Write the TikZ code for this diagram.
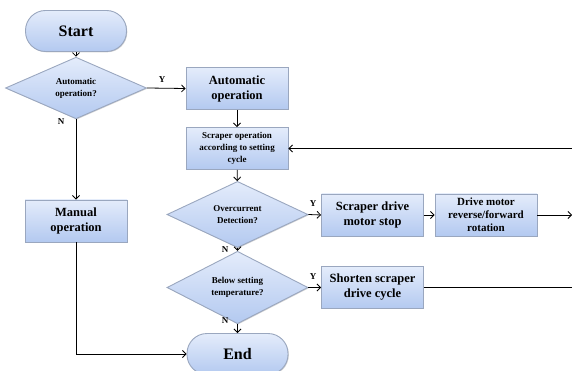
\documentclass[tikz,border=0pt]{standalone}
\usepackage{fontspec}
\setmainfont{Liberation Serif}
\usetikzlibrary{shapes.geometric,arrows.meta,shadows}
\definecolor{ctop}{HTML}{E4ECFB}
\definecolor{cbot}{HTML}{B3C9F0}
\definecolor{cedge}{HTML}{9AA7BF}
\begin{document}
\begin{tikzpicture}[x=1pt,y=-1pt,
  grad/.style={top color=ctop, bottom color=cbot, draw=cedge, line width=0.9pt,
    drop shadow={shadow xshift=0.8pt, shadow yshift=-0.8pt, opacity=0.35}},
  proc/.style={grad, rectangle, minimum width=102pt, minimum height=42pt, inner sep=1pt, align=center, font=\bfseries\fontsize{12.5}{15}\selectfont},
  term/.style={grad, rectangle, rounded corners=20pt, minimum width=101pt, minimum height=41pt, inner sep=1pt, font=\bfseries\fontsize{16}{18}\selectfont},
  dec/.style={grad, diamond, minimum width=141pt, minimum height=53pt, inner sep=0pt, align=center, font=\bfseries\fontsize{9}{12}\selectfont},
  arr/.style={-{Straight Barb[length=3.5pt,width=7pt]}, line width=0.8pt},
  ln/.style={line width=0.8pt},
  lab/.style={font=\bfseries\fontsize{9}{10}\selectfont, inner sep=0pt}]
\useasboundingbox (0,0) rectangle (572,371);
\node[term] (start) at (76,31) {Start};
\node[dec] (d1) at (76,88) {Automatic\\operation?};
\node[proc] (auto) at (237,88.5) {Automatic\\operation};
\node[proc, font=\bfseries\fontsize{9}{12}\selectfont] (scr) at (237,148.5) {Scraper operation\\according to setting\\cycle};
\node[dec] (d2) at (237.5,214.5) {Overcurrent\\Detection?};
\node[proc] (stop) at (372.5,215) {Scraper drive\\motor stop};
\node[proc, font=\bfseries\fontsize{11}{13}\selectfont] (drv) at (486,215) {Drive motor\\reverse/forward\\rotation};
\node[dec] (d3) at (237.5,287.5) {Below setting\\temperature?};
\node[proc] (short) at (372.5,287.5) {Shorten scraper\\drive cycle};
\node[term] (end) at (237.5,354) {End};
\node[proc] (man) at (76,221) {Manual\\operation};
\coordinate (r1) at (572,148.5);
\coordinate (r2) at (572,215);
\coordinate (r3) at (572,287.5);
\draw[arr] (start) -- (d1);
\draw[arr] (d1.east) -- (auto.west);
\node[lab] (y1) at (162,80) {Y};
\draw[arr] (auto) -- (scr);
\draw[arr] (r1) -- (scr.east);
\draw[arr] (scr) -- (d2);
\draw[arr] (d2.east) -- (stop.west);
\node[lab] (y2) at (313,204) {Y};
\draw[arr] (stop) -- (drv);
\draw[arr] (drv.east) -- (r2);
\draw[arr] (d2.south) -- (d3.north);
\node[lab] (n2) at (225,250) {N};
\draw[arr] (d3.east) -- (short.west);
\node[lab] (y3) at (313,277) {Y};
\draw[ln] (short.east) -- (r3);
\draw[arr] (d3.south) -- (end.north);
\node[lab] (n3) at (225,321) {N};
\draw[arr] (d1.south) -- (man.north);
\node[lab] (n1) at (61,122) {N};
\draw[arr] (man.south) |- (end.west);
\end{tikzpicture}
\end{document}
